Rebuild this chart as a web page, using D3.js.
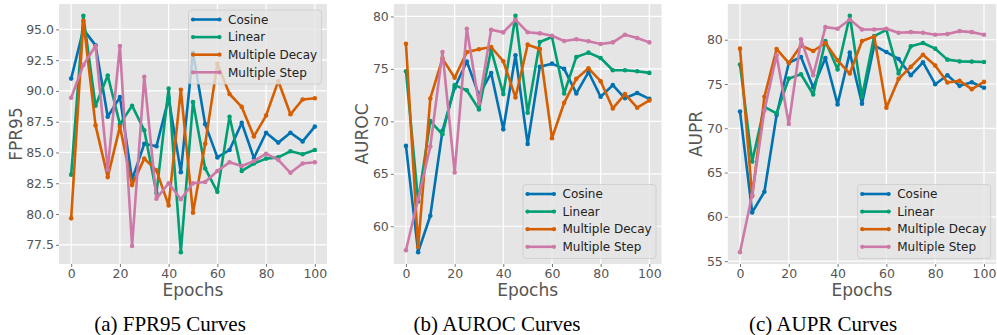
<!DOCTYPE html>
<html>
<head>
<meta charset="utf-8">
<script src="https://cdn.jsdelivr.net/npm/d3@7"></script>
<style>
  html, body { margin: 0; padding: 0; background: #ffffff; }
  svg { display: block; }
</style>
</head>
<body>
<svg id="chart" width="997" height="335"></svg>
<script>
// ---------------- data ----------------
const epochs = [0, 5, 10, 15, 20, 25, 30, 35, 40, 45, 50, 55, 60, 65, 70, 75, 80, 85, 90, 95, 100];
const seriesNames = ["Cosine", "Linear", "Multiple Decay", "Multiple Step"];
const seriesColors = ["#0072B2", "#009E73", "#D55E00", "#CC79A7"];

// FPR95
const fprCosine = [91.0, 95.0, 93.7, 87.9, 89.5, 82.8, 85.7, 85.5, 89.4, 83.4, 93.1, 87.3, 84.6, 85.2, 87.4, 84.55, 86.6, 85.8, 86.6, 85.9, 87.1];
const fprLinear = [83.2, 96.1, 88.8, 91.25, 87.3, 88.8, 86.8, 81.7, 90.2, 76.9, 89.1, 83.7, 81.8, 87.9, 83.5, 84.1, 84.5, 84.6, 85.1, 84.85, 85.2];
const fprDecay = [79.65, 95.7, 87.2, 83.0, 87.1, 82.35, 84.5, 83.55, 80.7, 90.1, 80.1, 85.7, 92.2, 89.75, 88.7, 86.3, 88.0, 90.8, 88.1, 89.3, 89.4];
const fprStep = [89.45, 92.1, 93.65, 83.6, 93.65, 77.4, 91.15, 81.25, 82.5, 81.2, 82.5, 82.6, 83.5, 84.2, 83.9, 84.3, 84.9, 84.4, 83.35, 84.1, 84.2];

// AUROC
const aurocCosine = [67.66, 57.53, 61.0, 69.1, 73.2, 75.7, 72.5, 74.6, 69.24, 76.3, 67.85, 75.2, 75.5, 75.0, 72.66, 74.7, 72.34, 73.45, 72.2, 72.7, 72.15];
const aurocLinear = [74.78, 62.37, 70.03, 68.77, 73.45, 72.97, 71.14, 76.84, 72.6, 80.06, 70.82, 77.56, 78.04, 72.66, 76.14, 76.55, 76.04, 74.87, 74.87, 74.78, 74.62];
const aurocDecay = [77.4, 58.04, 72.18, 75.98, 74.15, 76.6, 76.87, 77.09, 75.73, 72.28, 77.31, 76.9, 68.39, 71.77, 74.05, 75.06, 73.83, 71.23, 72.6, 71.3, 72.0];
const aurocStep = [57.72, 62.6, 67.6, 76.6, 65.13, 78.83, 71.7, 78.73, 78.48, 79.68, 78.5, 78.39, 78.16, 77.66, 77.82, 77.63, 77.37, 77.53, 78.26, 77.94, 77.53];

// AUPR
const auprCosine = [71.9, 60.5, 62.83, 71.5, 77.38, 78.05, 74.6, 77.94, 72.7, 78.54, 72.77, 79.36, 78.61, 77.83, 75.99, 77.45, 74.98, 75.99, 74.79, 75.2, 74.57];
const auprLinear = [77.19, 66.24, 72.43, 71.68, 75.61, 76.1, 73.82, 79.85, 76.63, 82.7, 73.55, 80.41, 81.12, 76.18, 79.25, 79.63, 78.99, 77.75, 77.56, 77.53, 77.49];
const auprDecay = [78.99, 62.35, 73.55, 78.95, 77.38, 79.36, 78.73, 79.63, 77.68, 76.18, 79.85, 80.37, 72.32, 75.58, 76.93, 78.31, 77.08, 75.17, 75.35, 74.42, 75.24];
const auprStep = [56.01, 62.5, 72.0, 78.24, 70.48, 80.04, 75.99, 81.42, 81.24, 82.29, 81.16, 81.16, 81.24, 80.79, 80.86, 80.79, 80.56, 80.64, 80.97, 80.86, 80.56];

const xTicks = [0, 20, 40, 60, 80, 100];
const fprTicks = [77.5, 80.0, 82.5, 85.0, 87.5, 90.0, 92.5, 95.0];
const aurocTicks = [60, 65, 70, 75, 80];
const auprTicks = [55, 60, 65, 70, 75, 80];

const yLabels = ["FPR95", "AUROC", "AUPR"];
const captions = ["(a) FPR95 Curves", "(b) AUROC Curves", "(c) AUPR Curves"];

// ---------------- layout ----------------
const panels = [
  { series: [fprCosine, fprLinear, fprDecay, fprStep], ticks: fprTicks, fmt: d3.format(".1f"),
    left: 59, right: 327, ylabelX: 16, legend: "upper", captionX: 170 },
  { series: [aurocCosine, aurocLinear, aurocDecay, aurocStep], ticks: aurocTicks, fmt: d3.format("d"),
    left: 393.8, right: 661.5, ylabelX: 362, legend: "lower", captionX: 497 },
  { series: [auprCosine, auprLinear, auprDecay, auprStep], ticks: auprTicks, fmt: d3.format("d"),
    left: 727.8, right: 996.2, ylabelX: 696, legend: "lower", captionX: 823 }
];
const plotTop = 4, plotBottom = 264;

const svg = d3.select("#chart");
const bg = "#E5E5E5", tickColor = "#555555";
const font = "DejaVu Sans, sans-serif";

panels.forEach((p, pi) => {
  const x = d3.scaleLinear().domain([-5, 105]).range([p.left, p.right]);
  const all = p.series.flat();
  const [mn, mx] = d3.extent(all);
  const pad = (mx - mn) * 0.05;
  const y = d3.scaleLinear().domain([mn - pad, mx + pad]).range([plotBottom, plotTop]);

  const g = svg.append("g");
  g.append("rect").attr("x", p.left).attr("y", plotTop)
    .attr("width", p.right - p.left).attr("height", plotBottom - plotTop).attr("fill", bg);

  // grid
  g.append("g").selectAll("line").data(xTicks).join("line")
    .attr("x1", d => x(d)).attr("x2", d => x(d)).attr("y1", plotTop).attr("y2", plotBottom)
    .attr("stroke", "#ffffff").attr("stroke-width", 1.2);
  g.append("g").selectAll("line").data(p.ticks).join("line")
    .attr("x1", p.left).attr("x2", p.right).attr("y1", d => y(d)).attr("y2", d => y(d))
    .attr("stroke", "#ffffff").attr("stroke-width", 1.2);

  // axes
  const xa = g.append("g").attr("transform", `translate(0,${plotBottom})`)
    .call(d3.axisBottom(x).tickValues(xTicks).tickSize(3).tickPadding(2.5).tickFormat(d3.format("d")));
  const ya = g.append("g").attr("transform", `translate(${p.left},0)`)
    .call(d3.axisLeft(y).tickValues(p.ticks).tickSize(3).tickPadding(2).tickFormat(p.fmt));
  [xa, ya].forEach(a => {
    a.select(".domain").remove();
    a.selectAll(".tick line").attr("stroke", tickColor).attr("stroke-width", 0.8);
    a.selectAll(".tick text").attr("fill", tickColor).attr("font-family", font).attr("font-size", 12.5);
  });

  // axis labels
  g.append("text").attr("x", (p.left + p.right) / 2).attr("y", 296)
    .attr("text-anchor", "middle").attr("font-family", font).attr("font-size", 17)
    .attr("fill", tickColor).text("Epochs");
  g.append("text").attr("transform", `translate(${p.ylabelX + 6},${(plotTop + plotBottom) / 2}) rotate(-90)`)
    .attr("text-anchor", "middle").attr("font-family", font).attr("font-size", 17)
    .attr("fill", tickColor).text(yLabels[pi]);

  // lines
  const line = d3.line().x((d, i) => x(epochs[i])).y(d => y(d));
  p.series.forEach((s, si) => {
    const sg = g.append("g");
    sg.append("path").datum(s).attr("d", line).attr("fill", "none")
      .attr("stroke", seriesColors[si]).attr("stroke-width", 2.6).attr("stroke-linejoin", "round");
    sg.selectAll("circle").data(s).join("circle")
      .attr("cx", (d, i) => x(epochs[i])).attr("cy", d => y(d)).attr("r", 2.3)
      .attr("fill", seriesColors[si]);
  });

  // legend
  const lw = 133, lh = 74;
  const lx = p.right - 5.5 - lw;
  const ly = p.legend === "upper" ? plotTop + 6 : plotBottom - 5.5 - lh;
  const lg = g.append("g").attr("transform", `translate(${lx},${ly})`);
  lg.append("rect").attr("width", lw).attr("height", lh).attr("rx", 3)
    .attr("fill", "#e5e5e5").attr("fill-opacity", 0.8).attr("stroke", "#cccccc").attr("stroke-width", 0.8);
  seriesNames.forEach((n, si) => {
    const ry = 9.5 + si * 17.6;
    lg.append("line").attr("x1", 4.5).attr("x2", 31).attr("y1", ry).attr("y2", ry)
      .attr("stroke", seriesColors[si]).attr("stroke-width", 2.6);
    [4.5, 31].forEach(cx => lg.append("circle").attr("cx", cx).attr("cy", ry).attr("r", 2.1).attr("fill", seriesColors[si]));
    lg.append("text").attr("x", 39.5).attr("y", ry).attr("dy", "0.35em")
      .attr("font-family", font).attr("font-size", 12).attr("fill", "#222222").text(n);
  });

  // caption
  svg.append("text").attr("x", p.captionX).attr("y", 331).attr("text-anchor", "middle")
    .attr("font-family", "Liberation Serif, Times New Roman, serif").attr("font-size", 21)
    .attr("fill", "#000000").text(captions[pi]);
});
</script>
</body>
</html>
